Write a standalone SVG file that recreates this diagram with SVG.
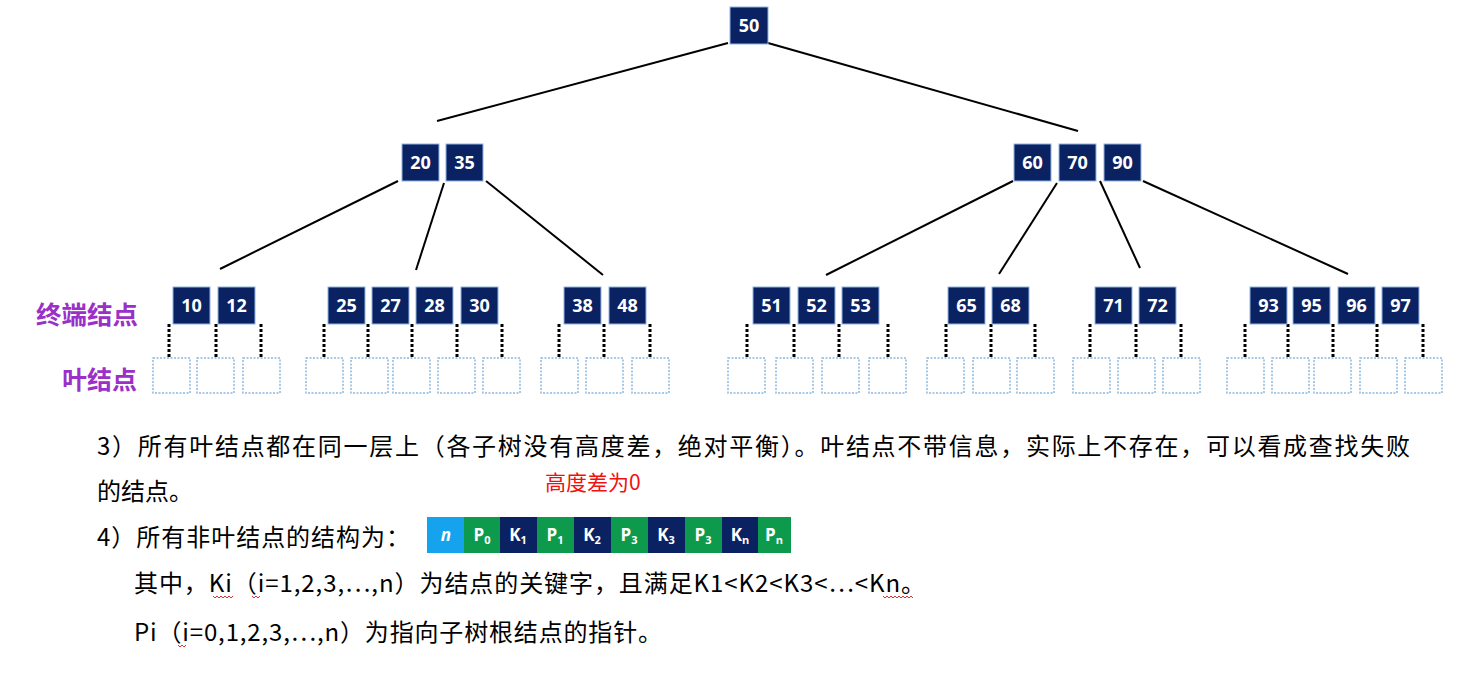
<svg xmlns="http://www.w3.org/2000/svg" width="1472" height="673" viewBox="0 0 1472 673">
<style>
.nb{fill:#0B2262;stroke:#8FB4E3;stroke-width:1}
.nt{font-family:"Open Sans","DejaVu Sans",sans-serif;font-weight:700;font-size:18px;fill:#fff;text-anchor:middle}
.lf{fill:#fff;stroke:#8DB8E0;stroke-width:1.5;stroke-dasharray:2 1.5}
.e{stroke:#000;stroke-width:2;fill:none}
.d{stroke:#000;stroke-width:3;stroke-dasharray:3 2;fill:none}
.lab{font-family:"Noto Sans CJK SC",sans-serif;font-weight:700;font-size:25px;fill:#9B30C9}
.tx{font-family:"Noto Sans CJK SC",sans-serif;font-size:24px;fill:#000}
.red{font-family:"Noto Sans CJK SC",sans-serif;font-size:21px;fill:#F01010}
.ct{font-family:"Open Sans","DejaVu Sans",sans-serif;font-weight:700;font-size:17px;fill:#fff;text-anchor:middle}
.sub{font-size:11px}
.wv{stroke:#E03030;stroke-width:1;fill:none}
</style>
<rect width="1472" height="673" fill="#fff"/>
<g id="connectors">
<path class="e" d="M728,43 L437,121"/>
<path class="e" d="M768,43 L1078,131"/>
<path class="e" d="M398,181 L220,269"/>
<path class="e" d="M444,183 L416,270"/>
<path class="e" d="M486,181 L603,275"/>
<path class="e" d="M1013,181 L826,275"/>
<path class="e" d="M1057,183 L999,274"/>
<path class="e" d="M1100,181 L1140,268"/>
<path class="e" d="M1143,181 L1348,274"/>
<path class="d" d="M169,324V358M216,324V358M261,324V358"/>
<path class="d" d="M324,324V358M368,324V358M412,324V358M457,324V358M502,324V358"/>
<path class="d" d="M559,324V358M604,324V358M650,324V358"/>
<path class="d" d="M747,324V358M794,324V358M839,324V358M888,324V358"/>
<path class="d" d="M946,324V358M991,324V358M1035,324V358"/>
<path class="d" d="M1090,324V358M1136,324V358M1181,324V358"/>
<path class="d" d="M1245,324V358M1288,324V358M1333,324V358M1377,324V358M1423,324V358"/>
</g>
<g id="n50"><rect class="nb" x="730" y="7" width="38" height="37"/><text class="nt" x="749" y="31.5">50</text></g>
<g id="n20_35"><rect class="nb" x="402" y="144" width="37" height="37"/><text class="nt" x="420.5" y="168.5">20</text><rect class="nb" x="446" y="144" width="37" height="37"/><text class="nt" x="464.5" y="168.5">35</text></g>
<g id="n60_70_90"><rect class="nb" x="1014" y="144" width="37" height="37"/><text class="nt" x="1032.5" y="168.5">60</text><rect class="nb" x="1059" y="144" width="37" height="37"/><text class="nt" x="1077.5" y="168.5">70</text><rect class="nb" x="1104" y="144" width="37" height="37"/><text class="nt" x="1122.5" y="168.5">90</text></g>
<g id="n10_12"><rect class="nb" x="173" y="287" width="37" height="37"/><text class="nt" x="191.5" y="311.5">10</text><rect class="nb" x="218" y="287" width="37" height="37"/><text class="nt" x="236.5" y="311.5">12</text></g>
<g id="n25_30"><rect class="nb" x="328" y="287" width="37" height="37"/><text class="nt" x="346.5" y="311.5">25</text><rect class="nb" x="372" y="287" width="37" height="37"/><text class="nt" x="390.5" y="311.5">27</text><rect class="nb" x="416" y="287" width="37" height="37"/><text class="nt" x="434.5" y="311.5">28</text><rect class="nb" x="461" y="287" width="37" height="37"/><text class="nt" x="479.5" y="311.5">30</text></g>
<g id="n38_48"><rect class="nb" x="564" y="287" width="37" height="37"/><text class="nt" x="582.5" y="311.5">38</text><rect class="nb" x="609" y="287" width="37" height="37"/><text class="nt" x="627.5" y="311.5">48</text></g>
<g id="n51_53"><rect class="nb" x="753" y="287" width="37" height="37"/><text class="nt" x="771.5" y="311.5">51</text><rect class="nb" x="798" y="287" width="37" height="37"/><text class="nt" x="816.5" y="311.5">52</text><rect class="nb" x="842" y="287" width="37" height="37"/><text class="nt" x="860.5" y="311.5">53</text></g>
<g id="n65_68"><rect class="nb" x="948" y="287" width="37" height="37"/><text class="nt" x="966.5" y="311.5">65</text><rect class="nb" x="992" y="287" width="37" height="37"/><text class="nt" x="1010.5" y="311.5">68</text></g>
<g id="n71_72"><rect class="nb" x="1095" y="287" width="37" height="37"/><text class="nt" x="1113.5" y="311.5">71</text><rect class="nb" x="1139" y="287" width="37" height="37"/><text class="nt" x="1157.5" y="311.5">72</text></g>
<g id="n93_97"><rect class="nb" x="1250" y="287" width="37" height="37"/><text class="nt" x="1268.5" y="311.5">93</text><rect class="nb" x="1293" y="287" width="37" height="37"/><text class="nt" x="1311.5" y="311.5">95</text><rect class="nb" x="1338" y="287" width="37" height="37"/><text class="nt" x="1356.5" y="311.5">96</text><rect class="nb" x="1382" y="287" width="37" height="37"/><text class="nt" x="1400.5" y="311.5">97</text></g>
<g id="leaves">
<g id="leaf1"><rect class="lf" x="153" y="358" width="37" height="35"/></g>
<g id="leaf2"><rect class="lf" x="197" y="358" width="37" height="35"/></g>
<g id="leaf3"><rect class="lf" x="243" y="358" width="37" height="35"/></g>
<g id="leaf4"><rect class="lf" x="306" y="358" width="37" height="35"/></g>
<g id="leaf5"><rect class="lf" x="351" y="358" width="37" height="35"/></g>
<g id="leaf6"><rect class="lf" x="393" y="358" width="37" height="35"/></g>
<g id="leaf7"><rect class="lf" x="438" y="358" width="37" height="35"/></g>
<g id="leaf8"><rect class="lf" x="483" y="358" width="37" height="35"/></g>
<g id="leaf9"><rect class="lf" x="541" y="358" width="37" height="35"/></g>
<g id="leaf10"><rect class="lf" x="586" y="358" width="37" height="35"/></g>
<g id="leaf11"><rect class="lf" x="632" y="358" width="37" height="35"/></g>
<g id="leaf12"><rect class="lf" x="728" y="358" width="37" height="35"/></g>
<g id="leaf13"><rect class="lf" x="776" y="358" width="37" height="35"/></g>
<g id="leaf14"><rect class="lf" x="822" y="358" width="37" height="35"/></g>
<g id="leaf15"><rect class="lf" x="869" y="358" width="37" height="35"/></g>
<g id="leaf16"><rect class="lf" x="927" y="358" width="37" height="35"/></g>
<g id="leaf17"><rect class="lf" x="973" y="358" width="37" height="35"/></g>
<g id="leaf18"><rect class="lf" x="1017" y="358" width="37" height="35"/></g>
<g id="leaf19"><rect class="lf" x="1073" y="358" width="37" height="35"/></g>
<g id="leaf20"><rect class="lf" x="1118" y="358" width="37" height="35"/></g>
<g id="leaf21"><rect class="lf" x="1163" y="358" width="37" height="35"/></g>
<g id="leaf22"><rect class="lf" x="1227" y="358" width="37" height="35"/></g>
<g id="leaf23"><rect class="lf" x="1272" y="358" width="37" height="35"/></g>
<g id="leaf24"><rect class="lf" x="1314" y="358" width="37" height="35"/></g>
<g id="leaf25"><rect class="lf" x="1360" y="358" width="37" height="35"/></g>
<g id="leaf26"><rect class="lf" x="1405" y="358" width="37" height="35"/></g>
</g>
<g id="labels">
<text class="lab" x="36" y="324" textLength="102" lengthAdjust="spacingAndGlyphs">终端结点</text>
<text class="lab" x="62" y="389" textLength="75" lengthAdjust="spacingAndGlyphs">叶结点</text>
</g>
<g id="text">
<text class="tx" x="97" y="455" textLength="1313" lengthAdjust="spacing">3）所有叶结点都在同一层上（各子树没有高度差，绝对平衡）。叶结点不带信息，实际上不存在，可以看成查找失败</text>
<text class="tx" x="97" y="500">的结点。</text>
<text class="red" x="545" y="490">高度差为0</text>
<text class="tx" x="97" y="546" textLength="313" lengthAdjust="spacing">4）所有非叶结点的结构为：</text>
<text class="tx" x="134" y="592" textLength="791" lengthAdjust="spacing">其中，Ki（i=1,2,3,…,n）为结点的关键字，且满足K1&lt;K2&lt;K3&lt;…&lt;Kn。</text>
<text class="tx" x="134" y="641" textLength="528" lengthAdjust="spacing">Pi（i=0,1,2,3,…,n）为指向子树根结点的指针。</text>
<path class="wv" d="M213,596 l2,2 l2,-2 l2,2 l2,-2 l2,2 l2,-2 l2,2 l2,-2 l2,2 l2,-2"/>
<path class="wv" d="M252,596 l2,2 l2,-2 l2,2 l2,-2"/>
<path class="wv" d="M883,596 l2,2 l2,-2 l2,2 l2,-2 l2,2 l2,-2 l2,2 l2,-2 l2,2 l2,-2 l2,2 l2,-2 l2,2 l2,-2 l2,2"/>
<path class="wv" d="M178,645 l2,2 l2,-2 l2,2 l2,-2"/>
</g>
<g id="struct">
<rect x="427" y="517" width="37" height="36" fill="#14A3EC"/>
<rect x="464" y="517" width="36" height="36" fill="#0E9A4C"/>
<rect x="500" y="517" width="37" height="36" fill="#0B2262"/>
<rect x="537" y="517" width="37" height="36" fill="#0E9A4C"/>
<rect x="574" y="517" width="37" height="36" fill="#0B2262"/>
<rect x="611" y="517" width="37" height="36" fill="#0E9A4C"/>
<rect x="648" y="517" width="37" height="36" fill="#0B2262"/>
<rect x="685" y="517" width="37" height="36" fill="#0E9A4C"/>
<rect x="722" y="517" width="36" height="36" fill="#0B2262"/>
<rect x="758" y="517" width="33" height="36" fill="#0E9A4C"/>
<text class="ct" x="446" y="541" font-style="italic" font-weight="400">n</text>
<text class="ct" x="482" y="541">P<tspan class="sub" dy="3">0</tspan></text>
<text class="ct" x="518" y="541">K<tspan class="sub" dy="3">1</tspan></text>
<text class="ct" x="555" y="541">P<tspan class="sub" dy="3">1</tspan></text>
<text class="ct" x="592" y="541">K<tspan class="sub" dy="3">2</tspan></text>
<text class="ct" x="629" y="541">P<tspan class="sub" dy="3">3</tspan></text>
<text class="ct" x="666" y="541">K<tspan class="sub" dy="3">3</tspan></text>
<text class="ct" x="703" y="541">P<tspan class="sub" dy="3">3</tspan></text>
<text class="ct" x="740" y="541">K<tspan class="sub" dy="3">n</tspan></text>
<text class="ct" x="774" y="541">P<tspan class="sub" dy="3">n</tspan></text>
</g>
</svg>
